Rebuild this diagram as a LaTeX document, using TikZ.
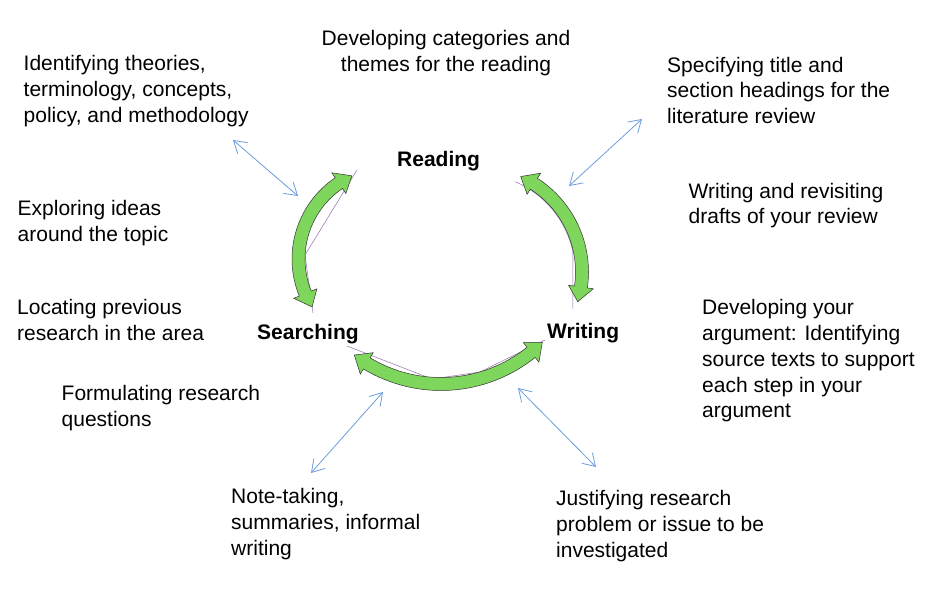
\documentclass[tikz,border=0pt]{standalone}
\usepackage{fontspec}
\setmainfont{Liberation Sans}
\usetikzlibrary{arrows.meta,calc}
\definecolor{arcgreen}{RGB}{126,214,92}
\definecolor{linkblue}{RGB}{109,158,222}
\definecolor{faintline}{RGB}{150,110,170}
\tikzset{
  lbl/.style={anchor=north west, inner sep=0pt, align=left, font=\fontsize{21}{25.8}\selectfont},
  stage/.style={anchor=north west, inner sep=0pt, font=\fontsize{21}{25.8}\selectfont\bfseries},
  linkarrow/.style={draw=linkblue, line width=0.8pt, {Straight Barb[length=12pt,width=15pt]}-{Straight Barb[length=12pt,width=15pt]}},
  greenarrow/.style={fill=arcgreen, draw=black!80, line width=0.5pt, line join=miter},
  ghost/.style={draw=faintline, line width=0.5pt}
}
\newcommand\cyclearc[4]{%
  \pgfmathsetmacro\caA{#3+15/#2*57.2958}%
  \pgfmathsetmacro\caB{#4-15/#2*57.2958}%
  \pgfmathsetmacro\caRo{#2+6.5}%
  \pgfmathsetmacro\caRi{#2-6.5}%
  \pgfmathsetmacro\caHo{#2+12.5}%
  \pgfmathsetmacro\caHi{#2-12.5}%
  \draw[greenarrow] ($(#1)+(#3:#2)$) -- ($(#1)+(\caA:\caHo)$) -- ($(#1)+(\caA:\caRo)$)
    arc[start angle=\caA, end angle=\caB, radius=\caRo]
    -- ($(#1)+(\caB:\caHo)$) -- ($(#1)+(#4:#2)$) -- ($(#1)+(\caB:\caHi)$) -- ($(#1)+(\caB:\caRi)$)
    arc[start angle=\caB, end angle=\caA, radius=\caRi]
    -- ($(#1)+(\caA:\caHi)$) -- cycle;
}
\begin{document}
\begin{tikzpicture}[x=1pt,y=-1pt]
\useasboundingbox[fill=white] (0,0) rectangle (952,614);

% cycle arrow centres
\coordinate (cL) at (390,259);
\coordinate (cR) at (477,272);
\coordinate (cB) at (441,240);

% faint underlying connectors
\draw[ghost] (357,170) -- (305,255) -- (313,313);
\draw[ghost] (347,346) -- (432,379) -- (480,372) -- (545,340);
\draw[ghost] ($(cR)+(-67:98)$) arc[start angle=-67, end angle=-12, radius=98] -- ++(0,57);

% cycle arrows
\cyclearc{cL}{91.5}{148.4}{245.4}
\cyclearc{cR}{105}{-65.4}{16.4}
\cyclearc{cB}{144}{45.3}{127}

% stage labels
\node[stage] (reading) at (397,151.5) {Reading};
\node[stage] (searching) at (257,324) {Searching};
\node[stage] (writing) at (547,323) {Writing};

% activity texts
\node[lbl, anchor=north, align=center] (categories) at (446,30) {Developing categories and\\themes for the reading};
\node[lbl] (theories) at (23.5,55) {Identifying theories,\\terminology, concepts,\\policy, and methodology};
\node[lbl] (exploring) at (17.5,200) {Exploring ideas\\around the topic};
\node[lbl] (locating) at (17,299) {Locating previous\\research in the area};
\node[lbl] (formulating) at (61.5,385) {Formulating research\\questions};
\node[lbl] (notetaking) at (231,488.5) {Note-taking,\\summaries, informal\\writing};
\node[lbl] (justifying) at (556,490.5) {Justifying research\\problem or issue to be\\investigated};
\node[lbl] (argument) at (702,299.3) {Developing your\\argument: Identifying\\source texts to support\\each step in your\\argument};
\node[lbl] (drafts) at (688.5,182.7) {Writing and revisiting\\drafts of your review};
\node[lbl] (specifying) at (667,56.7) {Specifying title and\\section headings for the\\literature review};

% blue links
\coordinate (l1a) at (233,140); \coordinate (l1b) at (298,196);
\coordinate (l2a) at (642,119); \coordinate (l2b) at (569,186);
\coordinate (l3a) at (383,392); \coordinate (l3b) at (311,473);
\coordinate (l4a) at (518,388); \coordinate (l4b) at (596,467);
\draw[linkarrow] (l1a) -- (l1b);
\draw[linkarrow] (l2a) -- (l2b);
\draw[linkarrow] (l3a) -- (l3b);
\draw[linkarrow] (l4a) -- (l4b);
\end{tikzpicture}
\end{document}
